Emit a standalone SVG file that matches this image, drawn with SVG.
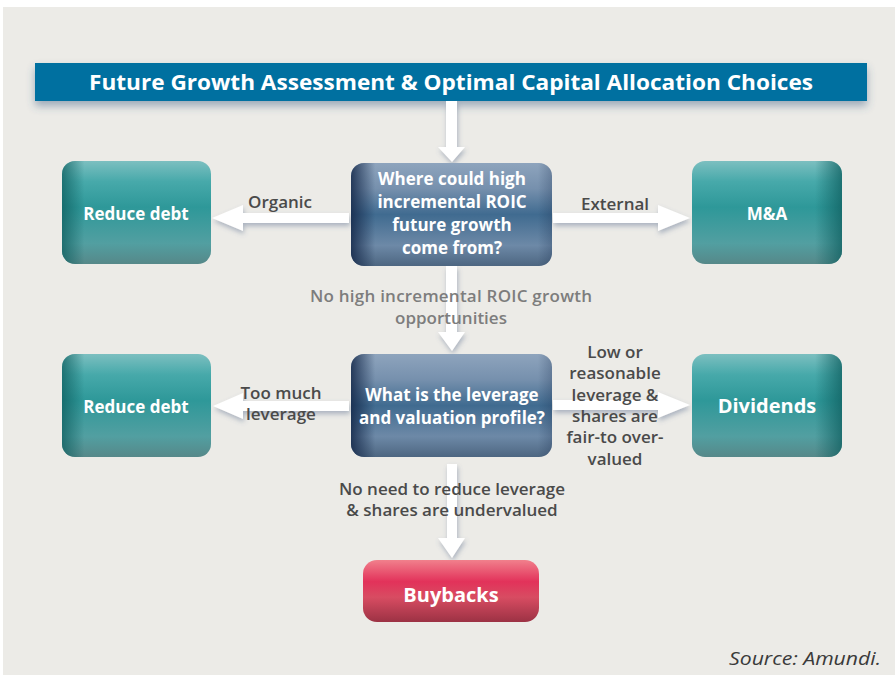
<svg xmlns="http://www.w3.org/2000/svg" width="895" height="675" viewBox="0 0 895 675">
<defs>
<style>
.lbl{font-family:"Open Sans","Liberation Sans",sans-serif;font-weight:600;font-size:17px;fill:#4a4a4a;text-anchor:middle}
.lbl2{font-family:"Open Sans","Liberation Sans",sans-serif;font-weight:600;font-size:17px;fill:#7d7d7d;text-anchor:middle}
.nt{font-family:"Open Sans","Liberation Sans",sans-serif;font-weight:700;font-size:17px;fill:#ffffff;text-anchor:middle}
.nt2{font-family:"Open Sans","Liberation Sans",sans-serif;font-weight:700;font-size:20px;fill:#ffffff;text-anchor:middle}
.arr{fill:#ffffff;filter:url(#sh)}
</style>
<filter id="sh" x="-30%" y="-30%" width="160%" height="160%">
<feDropShadow dx="1" dy="3" stdDeviation="2.5" flood-color="#5a7090" flood-opacity="0.45"/>
</filter>
<filter id="tsh" x="-5%" y="-30%" width="110%" height="180%">
<feDropShadow dx="0" dy="5" stdDeviation="4" flood-color="#3a5a80" flood-opacity="0.45"/>
</filter>
<linearGradient id="tealV" x1="0" y1="0" x2="0" y2="1">
<stop offset="0" stop-color="#7cbfc0"/>
<stop offset="0.2" stop-color="#47a9aa"/>
<stop offset="0.45" stop-color="#2e9899"/>
<stop offset="0.8" stop-color="#529fa1"/>
<stop offset="1" stop-color="#568889"/>
</linearGradient>
<linearGradient id="edgeL" x1="0" y1="0" x2="1" y2="0">
<stop offset="0" stop-color="#0f5f60" stop-opacity="0.75"/>
<stop offset="0.15" stop-color="#0f5f60" stop-opacity="0"/>
<stop offset="0.9" stop-color="#ffffff" stop-opacity="0"/>
</linearGradient>
<linearGradient id="edgeR" x1="0" y1="0" x2="1" y2="0">
<stop offset="0.82" stop-color="#0f5f60" stop-opacity="0"/>
<stop offset="1" stop-color="#0f5f60" stop-opacity="0.75"/>
</linearGradient>
<linearGradient id="blueV" x1="0" y1="0" x2="0" y2="1">
<stop offset="0" stop-color="#8ea4bd"/>
<stop offset="0.25" stop-color="#7690ad"/>
<stop offset="0.5" stop-color="#406b90"/>
<stop offset="0.8" stop-color="#6d89a7"/>
<stop offset="1" stop-color="#4d6681"/>
</linearGradient>
<linearGradient id="blueL" x1="0" y1="0" x2="1" y2="0">
<stop offset="0" stop-color="#15294a" stop-opacity="0.85"/>
<stop offset="0.12" stop-color="#15294a" stop-opacity="0"/>
<stop offset="0.93" stop-color="#15294a" stop-opacity="0"/>
<stop offset="1" stop-color="#15294a" stop-opacity="0.25"/>
</linearGradient>
<linearGradient id="redV" x1="0" y1="0" x2="0" y2="1">
<stop offset="0" stop-color="#f1808c"/>
<stop offset="0.35" stop-color="#e2325a"/>
<stop offset="0.6" stop-color="#d84c62"/>
<stop offset="1" stop-color="#9c3244"/>
</linearGradient>
</defs>
<rect x="0" y="0" width="895" height="675" fill="#ffffff"/>
<rect x="3" y="7" width="892" height="668" fill="#ecebe7"/>

<g id="title">
<rect x="35" y="63" width="832" height="38" fill="#0670a0" filter="url(#tsh)"/>
<text x="451" y="90" font-family="'Open Sans','Liberation Sans',sans-serif" font-weight="700" font-size="21" fill="#ffffff" text-anchor="middle" textLength="724" lengthAdjust="spacingAndGlyphs">Future Growth Assessment &amp; Optimal Capital Allocation Choices</text>
</g>

<g id="connectors">
<path class="arr" d="M446,101 H457 V147 H465 L452,162 L438,147 H446 Z"/>
<path class="arr" d="M349,213 V223 H243 V231 L212,218 L243,205 V213 Z"/>
<path class="arr" d="M553,213 V223 H658 V231 L690,218 L658,205 V213 Z"/>
<path class="arr" d="M446,266 H457 V332 H465 L452,351 L438,332 H446 Z"/>
<path class="arr" d="M349,401 V411 H243 V419 L213,406 L243,393 V401 Z"/>
<path class="arr" d="M553,400 V410 H658 V418 L690,405 L658,392 V400 Z"/>
<path class="arr" d="M447,464 H457 V538 H465 L452,558 L438,538 H447 Z"/>
<text class="lbl" x="280" y="208">Organic</text>
<text class="lbl" x="615" y="210">External</text>
<text class="lbl2" x="451" y="302" textLength="282">No high incremental ROIC growth</text>
<text class="lbl2" x="451" y="324">opportunities</text>
<text class="lbl" x="281" y="399">Too much</text>
<text class="lbl" x="281" y="420">leverage</text>
<text class="lbl" x="615" y="358">Low or</text>
<text class="lbl" x="615" y="379">reasonable</text>
<text class="lbl" x="615" y="401">leverage &amp;</text>
<text class="lbl" x="615" y="422">shares are</text>
<text class="lbl" x="615" y="443">fair-to over-</text>
<text class="lbl" x="615" y="465">valued</text>
<text class="lbl" x="452" y="495">No need to reduce leverage</text>
<text class="lbl" x="452" y="516">&amp; shares are undervalued</text>
</g>

<g id="reduce-debt-1">
<rect x="62" y="161" width="149" height="103" rx="13" fill="url(#tealV)"/>
<rect x="62" y="161" width="149" height="103" rx="13" fill="url(#edgeL)"/>
<text class="nt" x="136" y="220">Reduce debt</text>
</g>

<g id="growth-question">
<rect x="351" y="163" width="201" height="103" rx="13" fill="url(#blueV)"/>
<rect x="351" y="163" width="201" height="103" rx="13" fill="url(#blueL)"/>
<text class="nt" x="452" y="185">Where could high</text>
<text class="nt" x="452" y="208">incremental ROIC</text>
<text class="nt" x="452" y="231">future growth</text>
<text class="nt" x="452" y="254">come from?</text>
</g>

<g id="ma">
<rect x="692" y="161" width="150" height="103" rx="13" fill="url(#tealV)"/>
<rect x="692" y="161" width="150" height="103" rx="13" fill="url(#edgeR)"/>
<text class="nt" x="767" y="220">M&amp;A</text>
</g>

<g id="reduce-debt-2">
<rect x="62" y="354" width="149" height="103" rx="13" fill="url(#tealV)"/>
<rect x="62" y="354" width="149" height="103" rx="13" fill="url(#edgeL)"/>
<text class="nt" x="136" y="413">Reduce debt</text>
</g>

<g id="leverage-question">
<rect x="351" y="354" width="201" height="103" rx="13" fill="url(#blueV)"/>
<rect x="351" y="354" width="201" height="103" rx="13" fill="url(#blueL)"/>
<text class="nt" x="452" y="401">What is the leverage</text>
<text class="nt" x="452" y="424">and valuation profile?</text>
</g>

<g id="dividends">
<rect x="692" y="354" width="150" height="103" rx="13" fill="url(#tealV)"/>
<rect x="692" y="354" width="150" height="103" rx="13" fill="url(#edgeR)"/>
<text class="nt2" x="767" y="413">Dividends</text>
</g>

<g id="buybacks">
<rect x="363" y="560" width="176" height="62" rx="14" fill="url(#redV)"/>
<text class="nt2" x="451" y="602">Buybacks</text>
</g>

<text x="881" y="665" font-family="'Open Sans','Liberation Sans',sans-serif" font-style="italic" font-weight="400" font-size="18" fill="#3a3a3a" text-anchor="end" textLength="152" lengthAdjust="spacingAndGlyphs">Source: Amundi.</text>
</svg>
